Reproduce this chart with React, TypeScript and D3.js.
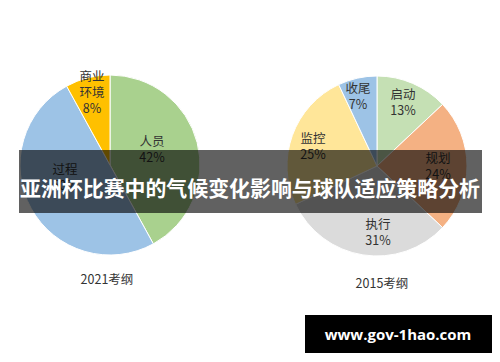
import React from "react";
import * as d3 from "d3";

const leftLabels = ["人员", "过程", "商业环境"];
const leftValues = [42, 50, 8];
const leftColors = ["#A9D18E", "#9DC3E6", "#FFC000"];

const rightLabels = ["启动", "规划", "执行", "监控", "收尾"];
const rightValues = [13, 24, 31, 25, 7];
const rightColors = ["#C5E0B4", "#F4B183", "#DBDBDB", "#FFE699", "#9DC3E6"];

const title = "亚洲杯比赛中的气候变化影响与球队适应策略分析";
const watermark = "www.gov-1hao.com";

// label positions (layout only)
const leftLabelPos: [string[], number, number][] = [
  [["人员", "42%"], 152, 140],
  [["过程", "50%"], 65, 168],
  [["商业", "环境", "8%"], 92, 75],
];
const rightLabelPos: [string[], number, number][] = [
  [["启动", "13%"], 403, 93],
  [["规划", "24%"], 438, 157],
  [["执行", "31%"], 378, 223],
  [["监控", "25%"], 313, 137],
  [["收尾", "7%"], 358, 87],
];

function Pie({ cx, cy, r, values, colors }: { cx: number; cy: number; r: number; values: number[]; colors: string[] }) {
  const pie = d3.pie<number>().sort(null).value((d) => d);
  const arc = d3.arc<d3.PieArcDatum<number>>().innerRadius(0).outerRadius(r);
  return (
    <g transform={`translate(${cx},${cy})`}>
      {pie(values).map((a, i) => (
        <path key={i} d={arc(a) || ""} fill={colors[i]} stroke="#fff" strokeWidth={1} />
      ))}
    </g>
  );
}

const labelFont = "'Noto Sans CJK SC', 'Noto Sans', sans-serif";

function Labels({ items }: { items: [string[], number, number][] }) {
  return (
    <g>
      {items.map(([lines, x, y], i) => (
        <text key={i} x={x} textAnchor="middle" fontFamily={labelFont} fontSize={12.5} fill="#333">
          {lines.map((l, j) => (
            <tspan key={j} x={x} y={y + j * 16} dominantBaseline="central">
              {l}
            </tspan>
          ))}
        </text>
      ))}
    </g>
  );
}

export default function App() {
  return (
    <svg width={500} height={362} style={{ position: "absolute", left: 0, top: 0, background: "#fff" }}>
      <rect width={500} height={362} fill="#fff" />
      <Pie cx={110} cy={165} r={90} values={leftValues} colors={leftColors} />
      <Pie cx={377} cy={166} r={90} values={rightValues} colors={rightColors} />
      <Labels items={leftLabelPos} />
      <Labels items={rightLabelPos} />
      <text x={107} y={278} textAnchor="middle" dominantBaseline="central" fontFamily={labelFont} fontSize={12.5} fill="#333">
        2021考纲
      </text>
      <text x={382} y={282} textAnchor="middle" dominantBaseline="central" fontFamily={labelFont} fontSize={12.5} fill="#333">
        2015考纲
      </text>
      <rect x={19} y={150} width={463} height={63} fill="rgba(0,0,0,0.62)" />
      <text x={250} y={187} textAnchor="middle" dominantBaseline="central" fontFamily={labelFont} fontWeight={700} fontSize={21} fill="#fff" textLength={460} lengthAdjust="spacingAndGlyphs">
        {title}
      </text>
      <rect x={305} y={315} width={187} height={38} fill="#000" />
      <text x={398} y={334} textAnchor="middle" dominantBaseline="central" fontFamily="'Open Sans', 'DejaVu Sans', sans-serif" fontWeight={700} fontSize={15} fill="#fff">
        {watermark}
      </text>
    </svg>
  );
}
